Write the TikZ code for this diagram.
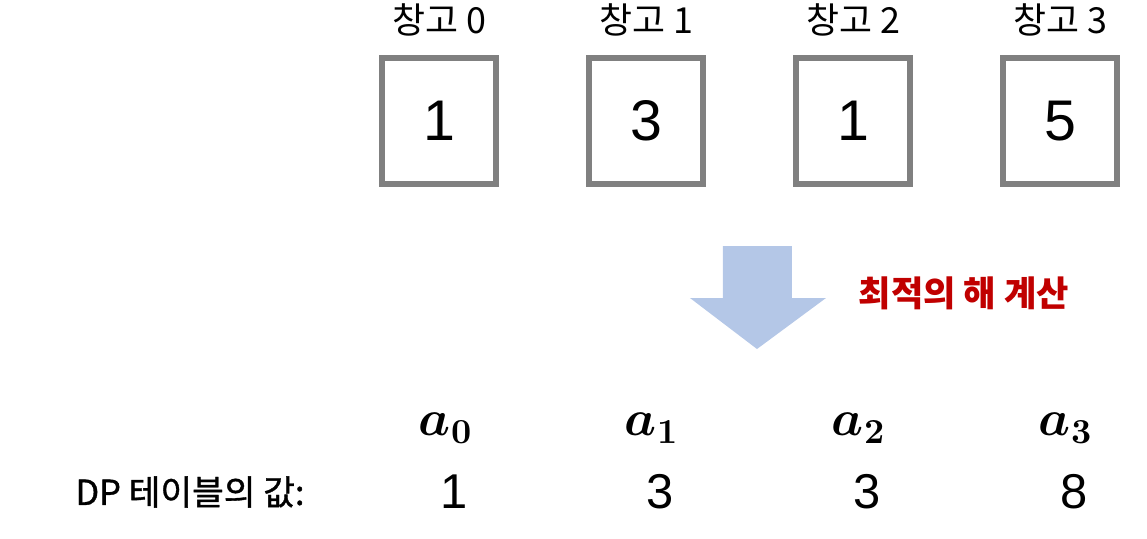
\documentclass[tikz,border=0pt]{standalone}
\usepackage{fontspec}
\setmainfont{Noto Sans CJK KR}
\newfontfamily\krmid[FakeBold=1]{Noto Sans CJK KR}
\newfontfamily\digits{Liberation Sans}
\usepackage{bm}
\usetikzlibrary{positioning}
\definecolor{boxgray}{RGB}{128,128,128}
\definecolor{arrowblue}{RGB}{180,199,231}
\definecolor{calcred}{RGB}{192,0,0}

\begin{document}
\begin{tikzpicture}[x=0.01cm, y=-0.01cm, every node/.style={inner sep=0pt},
    store/.style={draw=boxgray, line width=1.7pt, minimum width=1.13cm, minimum height=1.26cm, font=\digits\fontsize{16.3}{16}\selectfont},
    storelabel/.style={font=\fontsize{10.2}{11}\selectfont},
    dpval/.style={font=\digits\fontsize{13.9}{14}\selectfont}]
      \useasboundingbox (0,0) rectangle (1147,538);
      % warehouses
      \foreach \i/\x/\v in {0/439/1, 1/646/3, 2/853/1, 3/1060/5} {
        \node[store] (box\i) at (\x,121) {\v};
        \node[storelabel] (lbl\i) at (\x,20) {창고 \i};
      }
      % arrow
      \fill[arrowblue] (723,246) -- (792,246) -- (792,298) -- (826,298) -- (757,349) -- (690,298) -- (723,298) -- cycle;
      \node[font=\bfseries\fontsize{10}{11}\selectfont, text=calcred] (calc) at (964,293) {최적의 해 계산};
      % DP table
      \node[font=\krmid\fontsize{9.8}{10}\selectfont] (dplabel) at (190,492) {DP 테이블의 값:};
      \foreach \i/\x/\d in {0/446/1, 1/652/3, 2/859/3, 3/1066/8} {
        \node[font=\fontsize{14}{14}\selectfont] (a\i) at (\x,428) {$\bm{a_{\i}}$};
        \node[dpval] (val\i) at (\x+8,492) {\d};
      }
    \end{tikzpicture}
\end{document}
